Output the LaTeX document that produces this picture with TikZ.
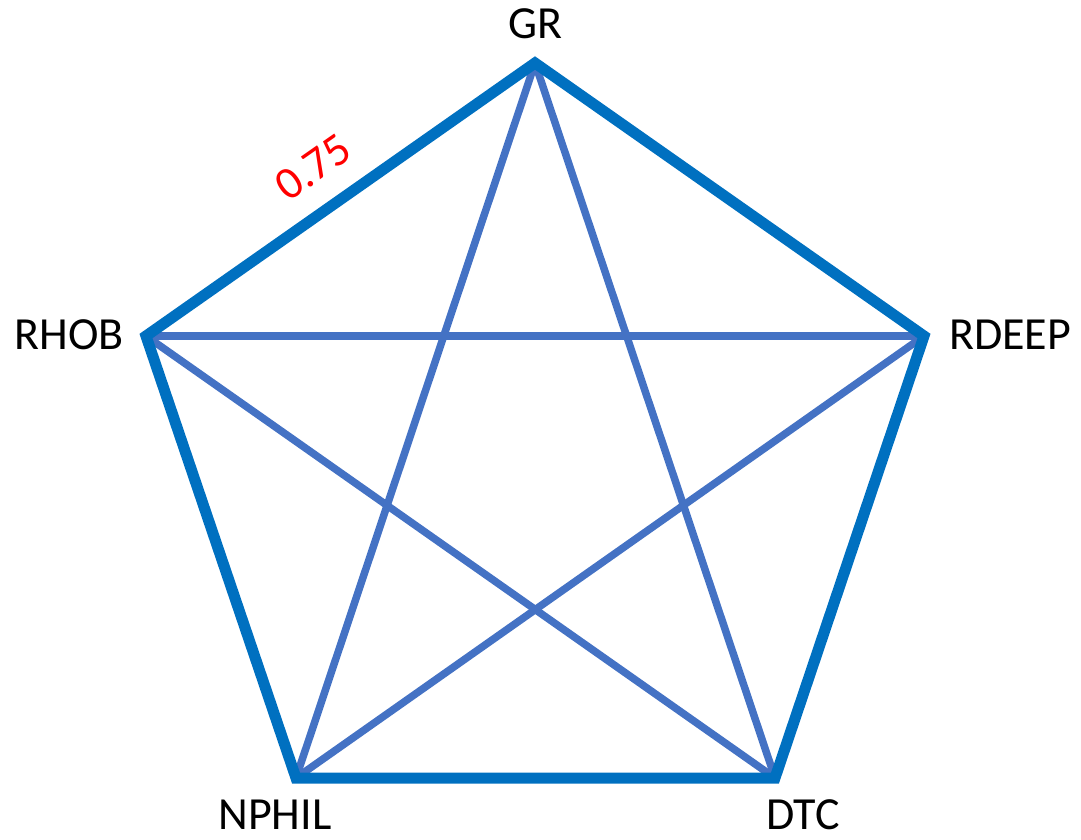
\documentclass[tikz,border=0pt]{standalone}
\usepackage{fontspec}
\setmainfont{Carlito}
\definecolor{outerblue}{HTML}{0070C0}
\definecolor{innerblue}{HTML}{4472C4}
\begin{document}
\begin{tikzpicture}[x=1pt,y=-1pt,
  vlabel/.style={font=\fontsize{46}{48}\selectfont, text=black, inner sep=0pt},
  outeredge/.style={draw=outerblue, line width=11pt, line join=miter},
  inneredge/.style={draw=innerblue, line width=7.5pt},
  weightlabel/.style={font=\fontsize{46}{48}\selectfont, text=red, inner sep=0pt}]
\useasboundingbox (0,0) rectangle (1081,839);
\coordinate (gr) at (535,63);
\coordinate (rhob) at (146,336);
\coordinate (rdeep) at (924,336);
\coordinate (nphil) at (296,778);
\coordinate (dtc) at (775,778);
\draw[inneredge] (gr) -- (nphil);
\draw[inneredge] (gr) -- (dtc);
\draw[inneredge] (rhob) -- (rdeep);
\draw[inneredge] (rhob) -- (dtc);
\draw[inneredge] (rdeep) -- (nphil);
\draw[outeredge] (gr) -- (rdeep) -- (dtc) -- (nphil) -- (rhob) -- cycle;
\node[vlabel] (lgr) at (535,24) {GR};
\node[vlabel] (lrhob) at (69,335) {RHOB};
\node[vlabel] (lrdeep) at (1010,335) {RDEEP};
\node[vlabel] (lnphil) at (275,815) {NPHIL};
\node[vlabel] (ldtc) at (803,815) {DTC};
\node[weightlabel, rotate=35] (w) at (313,167) {0.75};
\end{tikzpicture}
\end{document}
